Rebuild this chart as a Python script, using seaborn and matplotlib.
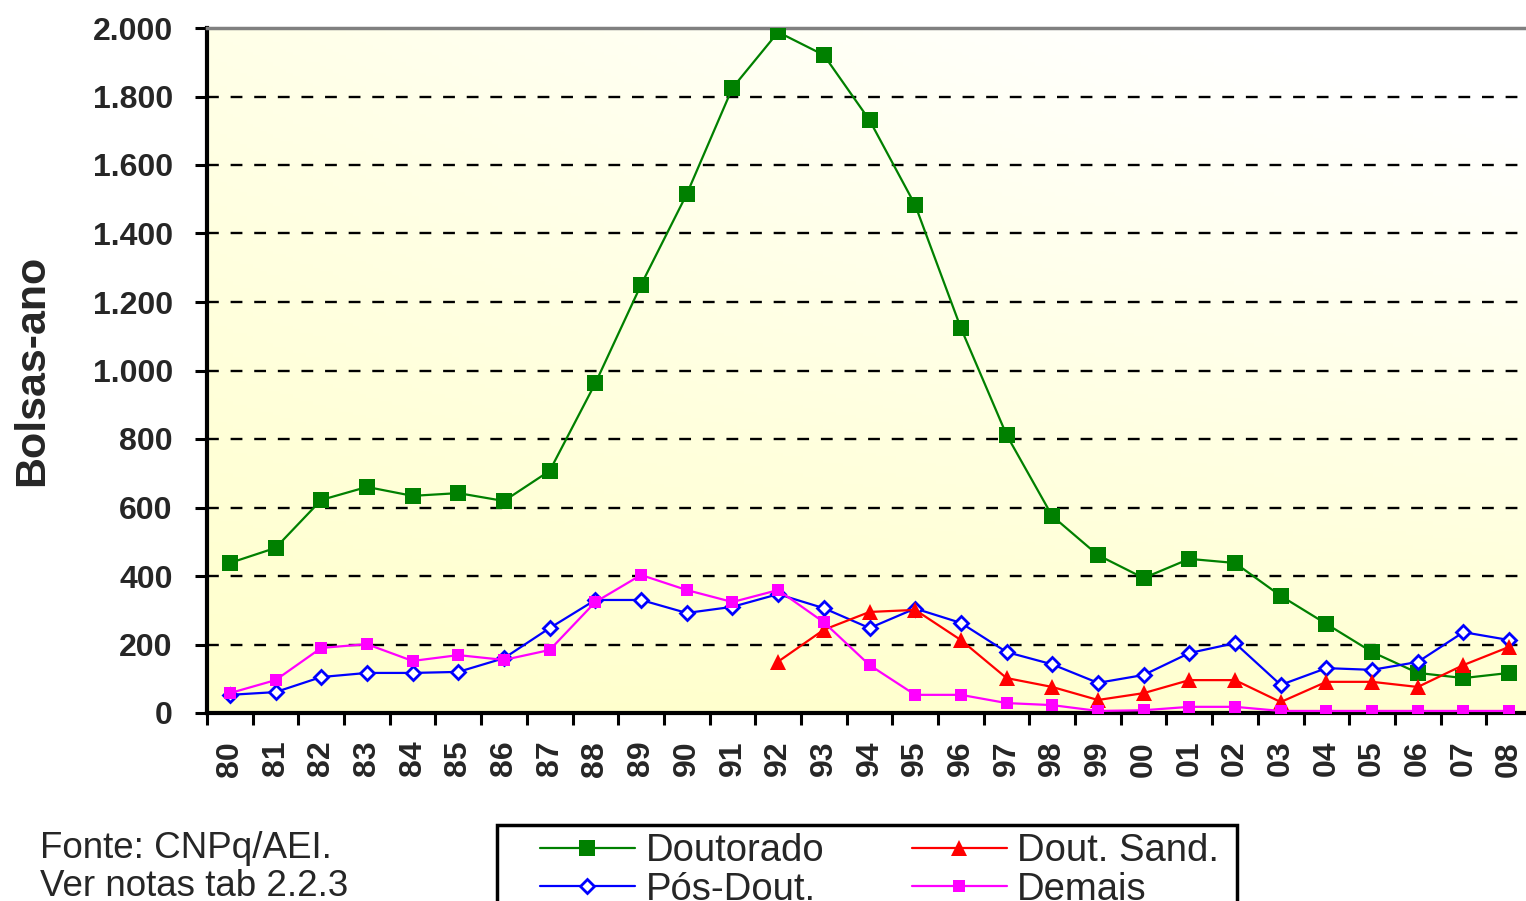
import numpy as np
import seaborn as sns
import matplotlib.pyplot as plt
from matplotlib.patches import Rectangle
from matplotlib.ticker import FuncFormatter

# data (bolsas-ano per year)
years = ['80', '81', '82', '83', '84', '85', '86', '87', '88', '89',
         '90', '91', '92', '93', '94', '95', '96', '97', '98', '99',
         '00', '01', '02', '03', '04', '05', '06', '07', '08']
doutorado = [438, 482, 622, 660, 634, 642, 619, 707, 963, 1250,
             1515, 1825, 1988, 1921, 1731, 1483, 1124, 812, 575, 461,
             394, 450, 438, 342, 260, 178, 117, 102, 117]
pos_dout = [53, 61, 105, 117, 117, 120, 160, 248, 330, 330,
            292, 310, 347, 306, 248, 305, 263, 178, 142, 88,
            111, 175, 204, 82, 131, 126, 149, 236, 213]
dout_sand = [np.nan] * 12 + [150, 243, 295, 301, 213, 102, 76, 38,
                             58, 96, 96, 32, 91, 91, 76, 140, 193]
demais = [58, 96, 190, 201, 152, 169, 155, 184, 324, 403,
          359, 324, 359, 265, 140, 53, 53, 29, 23, 6,
          8, 18, 18, 6, 6, 6, 6, 6, 6]

sns.set_style("white")
plt.rcParams['font.family'] = ['Liberation Sans', 'DejaVu Sans']

W, H = 1526, 901
fig = plt.figure(figsize=(W / 100, H / 100), dpi=100)
ax = fig.add_axes([207 / W, 1 - 713 / H, 1325 / W, 685 / H])

xpos = np.arange(len(years))

# pale yellow background, whiter towards the top right
ty = np.linspace(0, 1, 200)[:, None]
tx = np.linspace(0, 1, 200)[None, :]
w = np.clip(0.55 * ty + 0.5 * tx * ty + 0.1 * tx, 0, 1)
bg = np.dstack([np.ones_like(w), np.ones_like(w), 0.8 + 0.2 * w])
ax.imshow(bg, extent=[-0.5, 28.5, 0, 2000], origin='lower',
          aspect='auto', zorder=0)

sns.lineplot(x=xpos, y=doutorado, ax=ax, color='#008000', lw=1.6,
             marker='s', markersize=11, markeredgewidth=0,
             label='Doutorado', zorder=5)
sns.lineplot(x=xpos, y=pos_dout, ax=ax, color='#0000ff', lw=1.6,
             marker='D', markersize=7, markerfacecolor='white',
             markeredgecolor='#0000ff', markeredgewidth=2,
             label='Pós-Dout.', zorder=5)
sns.lineplot(x=xpos, y=dout_sand, ax=ax, color='#ff0000', lw=1.6,
             marker='^', markersize=12, markeredgewidth=0,
             label='Dout. Sand.', zorder=5)
sns.lineplot(x=xpos, y=demais, ax=ax, color='#ff00ff', lw=1.6,
             marker='s', markersize=9, markeredgewidth=0,
             label='Demais', zorder=5)

ax.set_xlim(-0.5, 28.5)
ax.set_ylim(0, 2000)

ax.set_yticks(range(0, 2001, 200))
ax.yaxis.set_major_formatter(FuncFormatter(lambda v, p: f'{int(v):,}'.replace(',', '.')))
ax.yaxis.grid(True, color='black', linestyle=(0, (5, 5)), lw=1.7, zorder=1)
gl = ax.get_ygridlines()
gl[0].set_visible(False)
gl[-1].set_visible(False)
ax.set_axisbelow(True)

ax.set_xticks(xpos)
ax.set_xticklabels(years, rotation=90)
ax.set_xticks(np.arange(-0.5, 29, 1), minor=True)
ax.tick_params(axis='x', which='major', length=0, pad=20, labelsize=23)
ax.tick_params(axis='x', which='minor', length=8.6, width=2.2,
               direction='out', color='black', bottom=True)
ax.tick_params(axis='y', length=8.6, width=2.2, direction='out',
               color='black', pad=16, labelsize=23, left=True)
for lab in ax.get_xticklabels() + ax.get_yticklabels():
    lab.set_fontweight('bold')

for s in ['left', 'bottom']:
    ax.spines[s].set_color('black')
    ax.spines[s].set_linewidth(3)
ax.spines['top'].set_color('#808080')
ax.spines['top'].set_linewidth(2.5)
ax.spines['right'].set_visible(False)

ax.set_xlabel('')
ax.set_ylabel('Bolsas-ano', fontsize=31, fontweight='bold')
ax.yaxis.set_label_coords(-0.117, 0.5)

# legend: two columns inside a square box that runs off the bottom edge
handles, labels = ax.get_legend_handles_labels()
ax.get_legend().remove()
order = [labels.index(n) for n in ['Doutorado', 'Pós-Dout.', 'Dout. Sand.', 'Demais']]
fig.legend([handles[i] for i in order], [labels[i] for i in order],
           ncol=2, loc='upper left',
           bbox_to_anchor=(540 / W, 1 - 833 / H),
           frameon=False, fontsize=27.5, handlelength=2.48,
           handletextpad=0.28, columnspacing=2.3, borderpad=0,
           labelspacing=0.07, borderaxespad=0)
fig.patches.append(Rectangle((497 / W, 1 - 920 / H), (1237 - 497) / W, 95 / H,
                             transform=fig.transFigure, fill=False,
                             edgecolor='black', lw=2.5))

fig.text(40 / W, 1 - 858 / H, 'Fonte: CNPq/AEI.', fontsize=26.5,
         va='baseline', ha='left')
fig.text(40 / W, 1 - 896 / H, 'Ver notas tab 2.2.3', fontsize=26.5,
         va='baseline', ha='left')
fig.text(790 / W, 1 + 5 / H, '1980-2008', fontsize=28,
         fontweight='bold', va='baseline', ha='center')

fig.savefig('out.png', dpi=100)
